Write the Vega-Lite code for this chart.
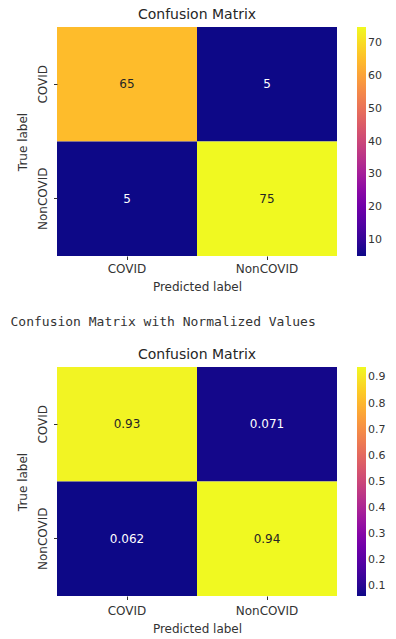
{
  "$schema": "https://vega.github.io/schema/vega-lite/v6.json",
  "padding": {"left": 10, "top": 8, "right": 5, "bottom": 5},
  "background": "white",
  "datasets": {
    "counts": [
      {"true": "COVID", "pred": "COVID", "value": 65},
      {"true": "COVID", "pred": "NonCOVID", "value": 5},
      {"true": "NonCOVID", "pred": "COVID", "value": 5},
      {"true": "NonCOVID", "pred": "NonCOVID", "value": 75}
    ],
    "norm": [
      {"true": "COVID", "pred": "COVID", "value": 0.93, "label": "0.93"},
      {"true": "COVID", "pred": "NonCOVID", "value": 0.071, "label": "0.071"},
      {"true": "NonCOVID", "pred": "COVID", "value": 0.062, "label": "0.062"},
      {"true": "NonCOVID", "pred": "NonCOVID", "value": 0.94, "label": "0.94"}
    ]
  },
  "config": {
    "font": "DejaVu Sans",
    "view": {"stroke": null},
    "axis": {
      "domain": false,
      "grid": false,
      "tickSize": 3.5,
      "tickColor": "#333333",
      "labelFontSize": 12,
      "labelColor": "#333333",
      "labelPadding": 4,
      "titleFontSize": 12,
      "titleFontWeight": "normal",
      "titleColor": "#333333"
    },
    "title": {"fontSize": 14, "fontWeight": "normal", "color": "#262626", "offset": 5},
    "legend": {
      "gradientLength": 229,
      "gradientThickness": 9,
      "gradientStrokeWidth": 0,
      "offset": 20,
      "labelFontSize": 11,
      "labelColor": "#333333",
      "labelOffset": 6
    }
  },
  "resolve": {"scale": {"color": "independent"}, "legend": {"color": "independent"}},
  "spacing": 23,
  "vconcat": [
    {
      "title": "Confusion Matrix",
      "width": 280,
      "height": 229,
      "data": {"name": "counts"},
      "encoding": {
        "x": {"field": "pred", "type": "nominal", "title": "Predicted label", "scale": {"paddingInner": 0, "paddingOuter": 0}, "axis": {"labelAngle": 0, "titlePadding": 7}},
        "y": {"field": "true", "type": "nominal", "title": "True label", "scale": {"paddingInner": 0, "paddingOuter": 0}, "axis": {"labelAngle": 270, "titlePadding": 7}}
      },
      "layer": [
        {
          "mark": {"type": "rect"},
          "encoding": {
            "color": {"field": "value", "type": "quantitative", "scale": {"scheme": "plasma", "domain": [5, 75]}, "legend": {"title": null, "values": [10, 20, 30, 40, 50, 60, 70]}}
          }
        },
        {
          "mark": {"type": "text", "fontSize": 12},
          "encoding": {
            "text": {"field": "value", "type": "quantitative", "format": "d"},
            "color": {"condition": {"test": "datum.value > 40", "value": "#262626"}, "value": "#ffffff"}
          }
        }
      ]
    },
    {
      "title": {"text": "Confusion Matrix with Normalized Values", "font": "DejaVu Sans Mono", "fontSize": 13, "fontWeight": "normal", "color": "#333333", "anchor": "start", "frame": "bounds", "dx": -6, "offset": 19},
      "vconcat": [
        {
          "title": "Confusion Matrix",
          "width": 280,
          "height": 229,
          "data": {"name": "norm"},
          "encoding": {
            "x": {"field": "pred", "type": "nominal", "title": "Predicted label", "scale": {"paddingInner": 0, "paddingOuter": 0}, "axis": {"labelAngle": 0, "labelPadding": 6, "titlePadding": 7}},
            "y": {"field": "true", "type": "nominal", "title": "True label", "scale": {"paddingInner": 0, "paddingOuter": 0}, "axis": {"labelAngle": 270, "titlePadding": 7}}
          },
          "layer": [
            {
              "mark": {"type": "rect"},
              "encoding": {
                "color": {"field": "value", "type": "quantitative", "scale": {"scheme": "plasma", "domain": [0.062, 0.94]}, "legend": {"title": null, "values": [0.1, 0.2, 0.3, 0.4, 0.5, 0.6, 0.7, 0.8, 0.9], "format": ".1f"}}
              }
            },
            {
              "mark": {"type": "text", "fontSize": 12},
              "encoding": {
                "text": {"field": "label", "type": "nominal"},
                "color": {"condition": {"test": "datum.value > 0.5", "value": "#262626"}, "value": "#ffffff"}
              }
            }
          ]
        }
      ]
    }
  ]
}
